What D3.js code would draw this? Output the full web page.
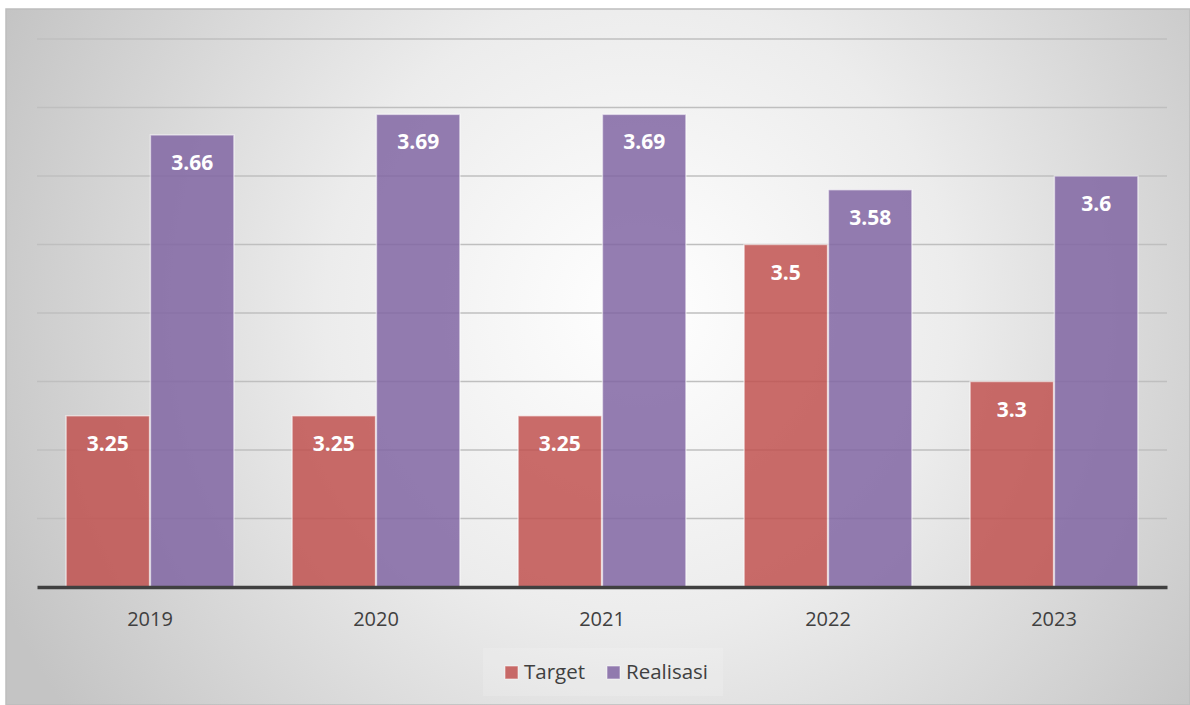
<!DOCTYPE html>
<html>
<head>
<meta charset="utf-8">
<script src="https://cdn.jsdelivr.net/npm/d3@7/dist/d3.min.js"></script>
<style>
  html, body { margin: 0; padding: 0; background: #ffffff; }
  svg { display: block; }
</style>
</head>
<body>
<svg id="chart" width="1190" height="705"></svg>
<script>
// Years on the x axis and the two series plotted per year
const years = ["2019", "2020", "2021", "2022", "2023"];
const seriesNames = ["Target", "Realisasi"];
const targetValues = [3.25, 3.25, 3.25, 3.5, 3.3];
const realisasiValues = [3.66, 3.69, 3.69, 3.58, 3.6];
const gridTicks = [3.0, 3.1, 3.2, 3.3, 3.4, 3.5, 3.6, 3.7, 3.8];

const seriesColors = { "Target": "#c0504d", "Realisasi": "#8064a2" };

const svg = d3.select("#chart");
const W = 1190, H = 705;
const frame = { x: 6, y: 9, w: W - 6, h: H - 9 };
const plot = { left: 37, right: 1167, top: 39, bottom: 587 };
const font = "'Open Sans', sans-serif";

// Soft radial background of the chart area
const defs = svg.append("defs");
const grad = defs.append("radialGradient")
  .attr("id", "bg")
  .attr("gradientUnits", "userSpaceOnUse")
  .attr("cx", 640).attr("cy", 310).attr("r", 700);
grad.append("stop").attr("offset", "0%").attr("stop-color", "#ffffff");
grad.append("stop").attr("offset", "45%").attr("stop-color", "#ececec");
grad.append("stop").attr("offset", "100%").attr("stop-color", "#c4c4c4");

svg.append("rect")
  .attr("x", frame.x).attr("y", frame.y)
  .attr("width", frame.w).attr("height", frame.h)
  .attr("fill", "url(#bg)")
  .attr("stroke", "#bdbdbd").attr("stroke-width", 1.5);

// Scales
const x0 = d3.scaleBand().domain(years)
  .range([plot.left, plot.right])
  .paddingInner(0.25).paddingOuter(0.125);
const x1 = d3.scaleBand().domain(seriesNames)
  .range([0, x0.bandwidth()]).padding(0.01);
const y = d3.scaleLinear().domain([3.0, 3.8]).range([plot.bottom, plot.top]);
const xAxisBand = d3.scaleBand().domain(years).range([plot.left, plot.right]);

// Horizontal gridlines
svg.append("g").selectAll("line")
  .data(gridTicks.filter(t => t > 3.0))
  .join("line")
  .attr("x1", plot.left).attr("x2", plot.right)
  .attr("y1", d => y(d)).attr("y2", d => y(d))
  .attr("stroke", "#bfbfbf").attr("stroke-width", 1.3);

// Bars
const rows = years.map((yr, i) => ({
  year: yr,
  values: [
    { name: "Target", value: targetValues[i] },
    { name: "Realisasi", value: realisasiValues[i] }
  ]
}));

const groups = svg.append("g").selectAll("g")
  .data(rows).join("g")
  .attr("transform", d => `translate(${x0(d.year)},0)`);

groups.selectAll("rect")
  .data(d => d.values).join("rect")
  .attr("x", d => x1(d.name))
  .attr("y", d => y(d.value))
  .attr("width", x1.bandwidth())
  .attr("height", d => y(3.0) - y(d.value))
  .attr("fill", d => seriesColors[d.name])
  .attr("fill-opacity", 0.84)
  .attr("stroke", "rgba(255,255,255,0.55)")
  .attr("stroke-width", 1.5);

groups.selectAll("text")
  .data(d => d.values).join("text")
  .attr("x", d => x1(d.name) + x1.bandwidth() / 2)
  .attr("y", d => y(d.value) + 35)
  .attr("text-anchor", "middle")
  .attr("fill", "#ffffff")
  .attr("font-family", font)
  .attr("font-weight", "bold")
  .attr("font-size", 21)
  .text(d => String(d.value));

// X axis
const xAxis = svg.append("g")
  .attr("transform", `translate(0,${plot.bottom})`)
  .call(d3.axisBottom(xAxisBand).tickSize(0).tickPadding(25));
xAxis.select(".domain").attr("stroke", "#404040").attr("stroke-width", 3.5);
xAxis.selectAll("text")
  .attr("fill", "#404040")
  .attr("font-family", font)
  .attr("font-size", 20);

// Legend
const legend = svg.append("g");
legend.append("rect")
  .attr("x", 483).attr("y", 648).attr("width", 240).attr("height", 48)
  .attr("fill", "#ffffff").attr("fill-opacity", 0.15);
const legendItems = [
  { name: "Target", x: 505 },
  { name: "Realisasi", x: 607 }
];
legendItems.forEach(item => {
  legend.append("rect")
    .attr("x", item.x).attr("y", 666).attr("width", 13).attr("height", 13)
    .attr("fill", seriesColors[item.name]).attr("fill-opacity", 0.84)
    .attr("stroke", "rgba(255,255,255,0.55)");
  legend.append("text")
    .attr("x", item.x + 19).attr("y", 679)
    .attr("fill", "#404040")
    .attr("font-family", font)
    .attr("font-size", 20.5)
    .text(item.name);
});
</script>
</body>
</html>
